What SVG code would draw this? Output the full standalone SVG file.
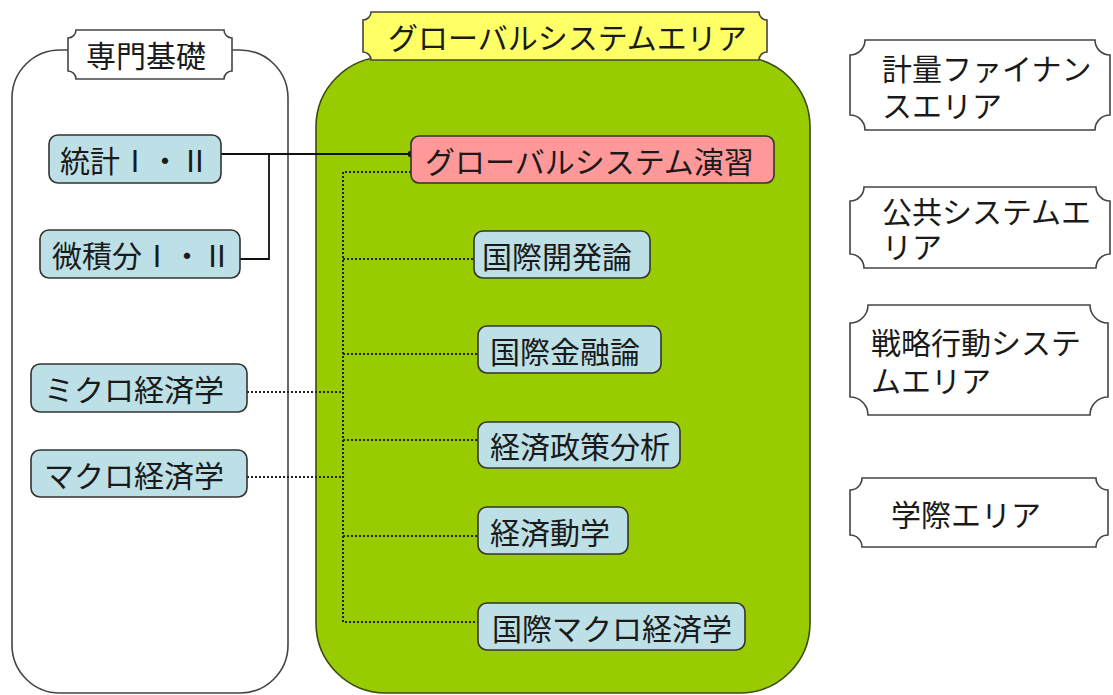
<svg xmlns="http://www.w3.org/2000/svg" width="1113" height="695" viewBox="0 0 1113 695">
<defs>
<style>
text{font-family:"Noto Sans CJK JP","Noto Sans CJK SC",sans-serif;font-size:30px;fill:#1a1a1a;dominant-baseline:central}
.node{fill:#BDE0E6;stroke:#333;stroke-width:1.6}
.plaque{fill:#fff;stroke:#444;stroke-width:1.6}
.solid{fill:none;stroke:#111;stroke-width:1.8}
.dot{fill:none;stroke:#222;stroke-width:2;stroke-dasharray:2 2}
</style>
<marker id="endDot" markerWidth="8" markerHeight="8" refX="4" refY="4" markerUnits="userSpaceOnUse"><circle cx="4" cy="4" r="3.2" fill="#111"/></marker>
</defs>
<rect width="1113" height="695" fill="#fff"/>

<g id="container-basic">
<rect x="12" y="50" width="276" height="643" rx="48" ry="48" fill="#fff" stroke="#444" stroke-width="1.6"/>
</g>
<g id="container-global">
<rect x="316" y="57" width="494" height="636" rx="70" ry="70" fill="#99CC00" stroke="#3a4a10" stroke-width="1.6"/>
</g>

<g id="connectors">
<polyline class="solid" points="221,154 411,154" marker-end="url(#endDot)"/>
<polyline class="solid" points="269,154 269,259 240,259"/>
<polyline class="dot" points="411,172 343,172 343,622 478,622"/>
<line class="dot" x1="343" y1="259" x2="474" y2="259"/>
<line class="dot" x1="343" y1="354" x2="478" y2="354"/>
<line class="dot" x1="343" y1="440" x2="478" y2="440"/>
<line class="dot" x1="343" y1="536" x2="478" y2="536"/>
<line class="dot" x1="247" y1="392" x2="343" y2="392"/>
<line class="dot" x1="247" y1="477" x2="343" y2="477"/>
</g>

<g id="label-basic">
<path class="plaque" d="M76,30 L224,30 A8,8 0 0 0 232,38 L232,71 A8,8 0 0 0 224,79 L76,79 A8,8 0 0 0 68,71 L68,38 A8,8 0 0 0 76,30 Z"/>
<text x="86" y="54">専門基礎</text>
</g>
<g id="label-global">
<path d="M371,12 L759,12 A8,8 0 0 0 767,20 L767,52 A8,8 0 0 0 759,60 L371,60 A8,8 0 0 0 363,52 L363,20 A8,8 0 0 0 371,12 Z" fill="#FFFF66" stroke="#444" stroke-width="1.6"/>
<text x="388" y="36">グローバルシステムエリア</text>
</g>

<g id="node-toukei"><rect class="node" x="49" y="135" width="172" height="48" rx="9"/><text x="60" y="159">統計Ⅰ・Ⅱ</text></g>
<g id="node-bisekibun"><rect class="node" x="40" y="230" width="200" height="48" rx="9"/><text x="52" y="254">微積分Ⅰ・Ⅱ</text></g>
<g id="node-micro"><rect class="node" x="31" y="364" width="216" height="48" rx="9"/><text x="44" y="388">ミクロ経済学</text></g>
<g id="node-macro"><rect class="node" x="31" y="450" width="216" height="47" rx="9"/><text x="44" y="474">マクロ経済学</text></g>

<g id="node-enshu"><rect x="411" y="136" width="363" height="47" rx="8" fill="#FF9999" stroke="#333" stroke-width="1.6"/><text x="425" y="160">グローバルシステム演習</text></g>
<g id="node-kaihatsu"><rect class="node" x="474" y="231" width="176" height="47" rx="9"/><text x="482" y="255">国際開発論</text></g>
<g id="node-kinyu"><rect class="node" x="478" y="326" width="183" height="47" rx="9"/><text x="490" y="350">国際金融論</text></g>
<g id="node-seisaku"><rect class="node" x="478" y="422" width="202" height="46" rx="9"/><text x="490" y="445">経済政策分析</text></g>
<g id="node-dougaku"><rect class="node" x="478" y="507" width="150" height="47" rx="9"/><text x="490" y="531">経済動学</text></g>
<g id="node-kokusai-macro"><rect class="node" x="478" y="603" width="267" height="47" rx="9"/><text x="492" y="627">国際マクロ経済学</text></g>

<g id="area-keiryo">
<path class="plaque" d="M865,40 L1095,40 A15,15 0 0 0 1110,55 L1110,115 A15,15 0 0 0 1095,130 L865,130 A15,15 0 0 0 850,115 L850,55 A15,15 0 0 0 865,40 Z"/>
<text x="882" y="67">計量ファイナン</text><text x="882" y="104">スエリア</text>
</g>
<g id="area-kokyo">
<path class="plaque" d="M864,187 L1096,187 A14,14 0 0 0 1110,201 L1110,254 A14,14 0 0 0 1096,268 L864,268 A14,14 0 0 0 850,254 L850,201 A14,14 0 0 0 864,187 Z"/>
<text x="882" y="210">公共システムエ</text><text x="882" y="245">リア</text>
</g>
<g id="area-senryaku">
<path class="plaque" d="M868,305 L1090,305 A18,18 0 0 0 1108,323 L1108,397 A18,18 0 0 0 1090,415 L868,415 A18,18 0 0 0 850,397 L850,323 A18,18 0 0 0 868,305 Z"/>
<text x="871" y="341">戦略行動システ</text><text x="871" y="379">ムエリア</text>
</g>
<g id="area-gakusai">
<path class="plaque" d="M862,478 L1096,478 A12,12 0 0 0 1108,490 L1108,535 A12,12 0 0 0 1096,547 L862,547 A12,12 0 0 0 850,535 L850,490 A12,12 0 0 0 862,478 Z"/>
<text x="891" y="513">学際エリア</text>
</g>
</svg>
